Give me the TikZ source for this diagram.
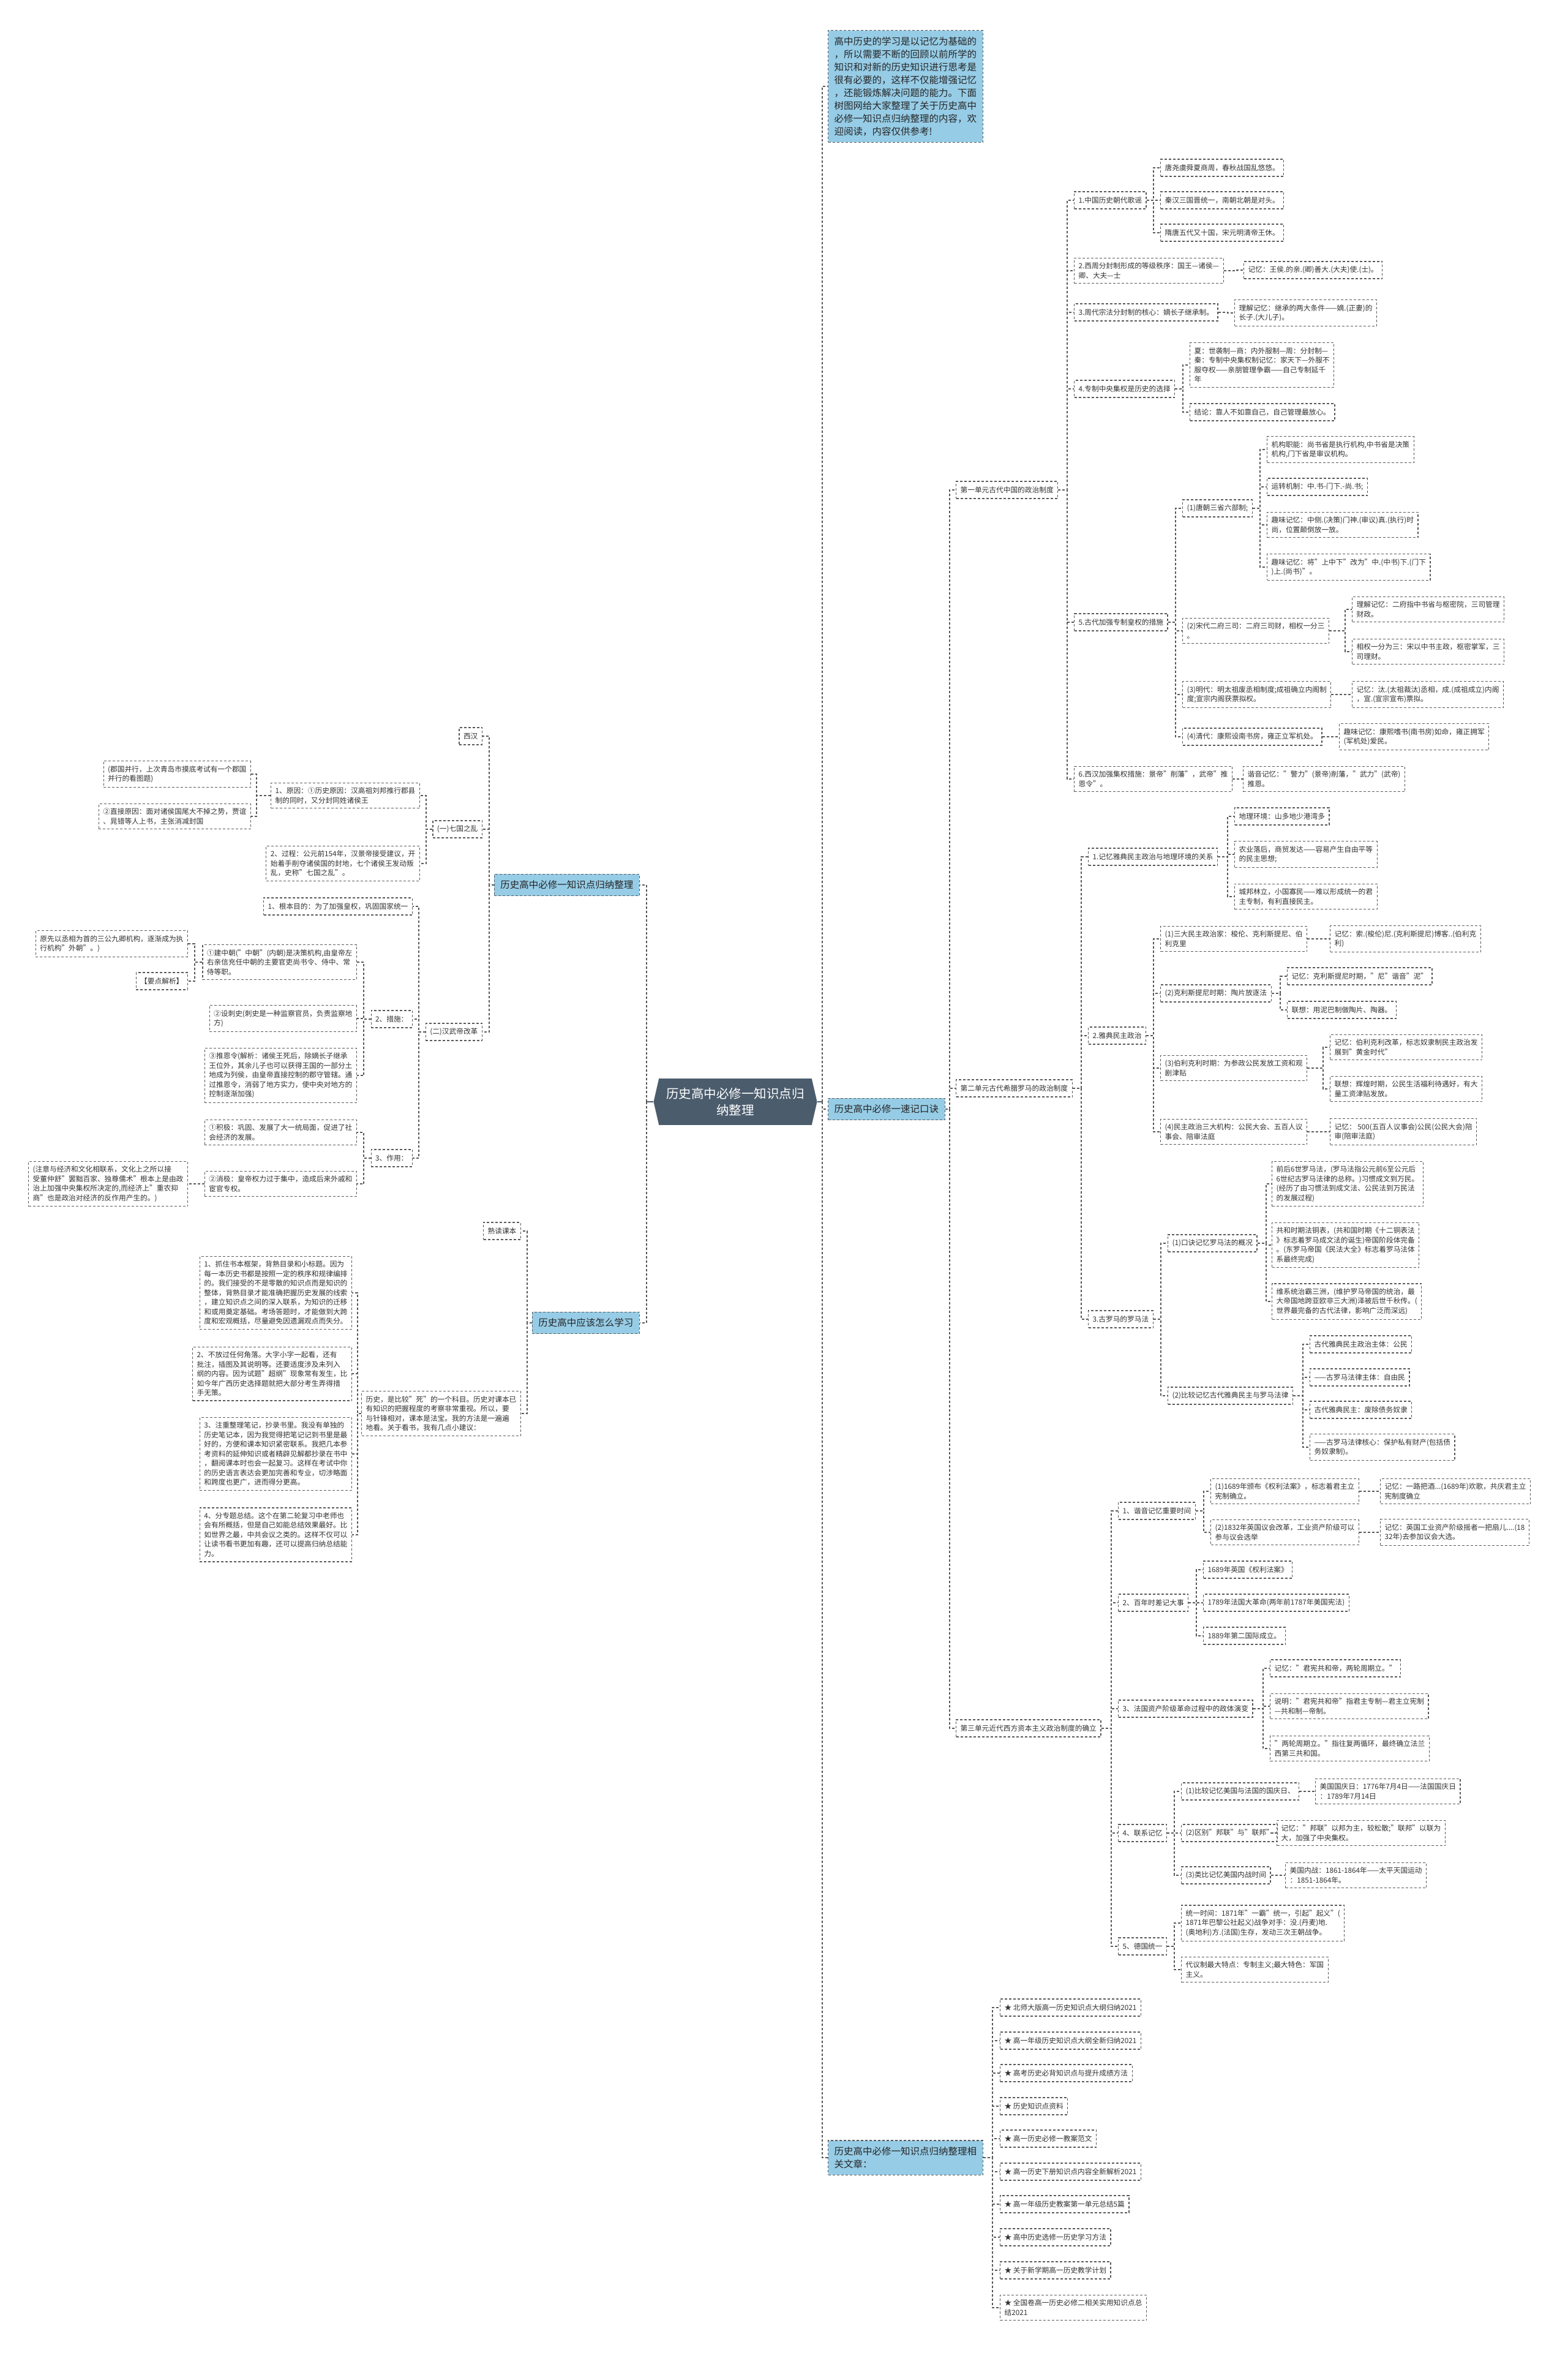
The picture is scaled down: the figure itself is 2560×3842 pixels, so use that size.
\documentclass[tikz,border=0pt]{standalone}
\usepackage{fontspec}
\setmainfont{Noto Sans CJK SC}
\usepackage{xcolor}
\usepackage{tikz}
\usetikzlibrary{shapes.symbols, positioning}

\definecolor{topicblue}{RGB}{150,204,230}
\definecolor{rootslate}{RGB}{75,92,109}
\definecolor{edgegray}{RGB}{90,90,90}
\definecolor{inkgray}{RGB}{50,50,50}

\begin{document}
\begin{tikzpicture}[x=1pt, y=-1pt]
        % Styles
        \tikzstyle{leaf} = [rectangle, draw=edgegray, line width=1.2pt, dash pattern=on 4pt off 3pt, text=inkgray, font=\fontsize{11.7}{15.5}\selectfont, align=left, inner xsep=7pt, inner ysep=7.5pt, minimum height=28pt, anchor=west]
        \tikzstyle{lleaf} = [leaf, anchor=east]
        \tikzstyle{topic} = [leaf, fill=topicblue, text=black!85, font=\fontsize{15.5}{21}\selectfont, inner xsep=10pt, inner ysep=10.5pt]
        \tikzstyle{ltopic} = [topic, anchor=east]
        \tikzstyle{rootbox} = [signal, signal to=west and east, signal pointer angle=154, fill=rootslate, text=white, font=\fontsize{20.5}{27}\selectfont, align=center, inner xsep=12pt, inner ysep=15pt]
        \tikzstyle{branch} = [draw=edgegray, line width=1.2pt, dash pattern=on 4pt off 3pt]
        \tikzstyle{trunk} = [draw=rootslate, line width=1.8pt]

        \fill[white] (0,0) rectangle (2560,3842);
        \useasboundingbox (0,0) rectangle (2560,3842);

        % Nodes
        \node [rootbox] (root) at (1201,1799) {历史高中必修一知识点归\\纳整理};
        \coordinate (rjoin) at (1343,1799);
        \coordinate (ljoin) at (1056,1799);

        % right side
        \node [topic] (intro) at (1352,141) {高中历史的学习是以记忆为基础的\\，所以需要不断的回顾以前所学的\\知识和对新的历史知识进行思考是\\很有必要的，这样不仅能增强记忆\\，还能锻炼解决问题的能力。下面\\树图网给大家整理了关于历史高中\\必修一知识点归纳整理的内容，欢\\迎阅读，内容仅供参考!};
        \node [topic] (kouj) at (1352,1811) {历史高中必修一速记口诀};
        \node [topic] (related) at (1352,3523) {历史高中必修一知识点归纳整理相\\关文章：};

        \node [leaf] (unitA) at (1561,800) {第一单元古代中国的政治制度};
        \node [leaf] (unitB) at (1561,1777) {第二单元古代希腊罗马的政治制度};
        \node [leaf] (unitC) at (1561,2822) {第三单元近代西方资本主义政治制度的确立};

        % unit one
        \node [leaf] (a1) at (1754,327) {1.中国历史朝代歌谣};
        \node [leaf] (a1x) at (1895,274) {唐尧虞舜夏商周，春秋战国乱悠悠。};
        \node [leaf] (a1y) at (1895,327) {秦汉三国晋统一，南朝北朝是对头。};
        \node [leaf] (a1z) at (1895,380) {隋唐五代又十国，宋元明清帝王休。};
        \node [leaf] (a2) at (1754,442) {2.西周分封制形成的等级秩序：国王—诸侯—\\卿、大夫—士};
        \node [leaf] (a2m) at (2031,441) {记忆：王侯.的亲.(卿)善大.(大夫)使.(士)。};
        \node [leaf] (a3) at (1754,510) {3.周代宗法分封制的核心：嫡长子继承制。};
        \node [leaf] (a3m) at (2016,511) {理解记忆：继承的两大条件——嫡.(正妻)的\\长子.(大儿子)。};
        \node [leaf] (a4) at (1754,635) {4.专制中央集权是历史的选择};
        \node [leaf] (a4x) at (1943,596) {夏：世袭制—商：内外服制—周：分封制—\\秦：专制中央集权制记忆：家天下—外服不\\服夺权——亲朋管理争霸——自己专制延千\\年};
        \node [leaf] (a4y) at (1943,673) {结论：靠人不如靠自己，自己管理最放心。};
        \node [leaf] (a5) at (1754,1016) {5.古代加强专制皇权的措施};
        \node [leaf] (a51) at (1931,830) {(1)唐朝三省六部制;};
        \node [leaf] (a51a) at (2069,734) {机构职能：尚书省是执行机构,中书省是决策\\机构,门下省是审议机构。};
        \node [leaf] (a51b) at (2069,795) {运转机制：中.书-门下.-尚.书;};
        \node [leaf] (a51c) at (2069,857) {趣味记忆：中侧.(决策)门神.(审议)真.(执行)时\\尚，位置颠倒放一放。};
        \node [leaf] (a51d) at (2069,926) {趣味记忆：将"上中下"改为"中.(中书)下.(门下\\)上.(尚书)"。};
        \node [leaf] (a52) at (1931,1030) {(2)宋代二府三司：二府三司财，相权一分三\\。};
        \node [leaf] (a52a) at (2208,995) {理解记忆：二府指中书省与枢密院，三司管理\\财政。};
        \node [leaf] (a52b) at (2208,1064) {相权一分为三：宋以中书主政，枢密掌军，三\\司理财。};
        \node [leaf] (a53) at (1931,1134) {(3)明代：明太祖废丞相制度;成祖确立内阁制\\度;宣宗内阁获票拟权。};
        \node [leaf] (a53m) at (2208,1134) {记忆：汰.(太祖裁汰)丞相，成.(成祖成立)内阁\\，宣.(宣宗宣布)票拟。};
        \node [leaf] (a54) at (1931,1203) {(4)清代：康熙设南书房，雍正立军机处。};
        \node [leaf] (a54m) at (2187,1203) {趣味记忆：康熙嗜书(南书房)如命，雍正拥军\\(军机处)爱民。};
        \node [leaf] (a6) at (1754,1272) {6.西汉加强集权措施：景帝"削藩"，武帝"推\\恩令"。};
        \node [leaf] (a6m) at (2030,1272) {谐音记忆："警力"(景帝)削藩，"武力"(武帝)\\推恩。};

        % unit two
        \node [leaf] (b1) at (1777,1399) {1.记忆雅典民主政治与地理环境的关系};
        \node [leaf] (b1x) at (2016,1333) {地理环境：山多地少港湾多};
        \node [leaf] (b1y) at (2016,1395) {农业落后，商贸发达——容易产生自由平等\\的民主思想;};
        \node [leaf] (b1z) at (2016,1464) {城邦林立，小国寡民——难以形成统一的君\\主专制，有利直接民主。};
        \node [leaf] (b2) at (1777,1691) {2.雅典民主政治};
        \node [leaf] (b21) at (1895,1533) {(1)三大民主政治家：梭伦、克利斯提尼、伯\\利克里};
        \node [leaf] (b21m) at (2172,1533) {记忆：索.(梭伦)尼.(克利斯提尼)博客..(伯利克\\利)};
        \node [leaf] (b22) at (1895,1622) {(2)克利斯提尼时期：陶片放逐法};
        \node [leaf] (b22x) at (2102,1594) {记忆：克利斯提尼时期，"尼"谐音"泥"};
        \node [leaf] (b22y) at (2102,1649) {联想：用泥巴制做陶片、陶器。};
        \node [leaf] (b23) at (1895,1744) {(3)伯利克利时期：为参政公民发放工资和观\\剧津贴};
        \node [leaf] (b23x) at (2172,1710) {记忆：伯利克利改革，标志奴隶制民主政治发\\展到"黄金时代"};
        \node [leaf] (b23y) at (2172,1778) {联想：辉煌时期，公民生活福利待遇好，有大\\量工资津贴发放。};
        \node [leaf] (b24) at (1895,1848) {(4)民主政治三大机构：公民大会、五百人议\\事会、陪审法庭};
        \node [leaf] (b24m) at (2172,1848) {记忆： 500(五百人议事会)公民(公民大会)陪\\审(陪审法庭)};
        \node [leaf] (b3) at (1777,2154) {3.古罗马的罗马法};
        \node [leaf] (b31) at (1907,2030) {(1)口诀记忆罗马法的概况};
        \node [leaf] (b31x) at (2077,1933) {前后6世罗马法，(罗马法指公元前6至公元后\\6世纪古罗马法律的总称。)习惯成文到万民。\\(经历了由习惯法到成文法、公民法到万民法\\的发展过程)};
        \node [leaf] (b31y) at (2077,2033) {共和时期法铜表，(共和国时期《十二铜表法\\》标志着罗马成文法的诞生)帝国阶段体完备\\。(东罗马帝国《民法大全》标志着罗马法体\\系最终完成)};
        \node [leaf] (b31z) at (2077,2125) {维系统治霸三洲，(维护罗马帝国的统治，最\\大帝国地跨亚欧非三大洲)泽被后世千秋传。(\\世界最完备的古代法律，影响广泛而深远)};
        \node [leaf] (b32) at (1907,2279) {(2)比较记忆古代雅典民主与罗马法律};
        \node [leaf] (b32a) at (2139,2195) {古代雅典民主政治主体：公民};
        \node [leaf] (b32b) at (2139,2249) {——古罗马法律主体：自由民};
        \node [leaf] (b32c) at (2139,2302) {古代雅典民主：废除债务奴隶};
        \node [leaf] (b32d) at (2139,2363) {——古罗马法律核心：保护私有财产(包括债\\务奴隶制)。};

        % unit three
        \node [leaf] (c1) at (1826,2467) {1、谐音记忆重要时间};
        \node [leaf] (c11) at (1977,2435) {(1)1689年颁布《权利法案》，标志着君主立\\宪制确立。};
        \node [leaf] (c11m) at (2254,2435) {记忆：一路把酒...(1689年)欢歌，共庆君主立\\宪制度确立};
        \node [leaf] (c12) at (1977,2502) {(2)1832年英国议会改革，工业资产阶级可以\\参与议会选举};
        \node [leaf] (c12m) at (2254,2502) {记忆：英国工业资产阶级摇者一把扇儿....(18\\32年)去参加议会大选。};
        \node [leaf] (c2) at (1826,2617) {2、百年时差记大事};
        \node [leaf] (c2x) at (1965,2563) {1689年英国《权利法案》};
        \node [leaf] (c2y) at (1965,2617) {1789年法国大革命(两年前1787年美国宪法)};
        \node [leaf] (c2z) at (1965,2671) {1889年第二国际成立。};
        \node [leaf] (c3) at (1826,2790) {3、法国资产阶级革命过程中的政体演变};
        \node [leaf] (c3x) at (2074,2724) {记忆："君宪共和帝，两轮周期立。"};
        \node [leaf] (c3y) at (2074,2786) {说明："君宪共和帝"指君主专制—君主立宪制\\—共和制—帝制。};
        \node [leaf] (c3z) at (2074,2855) {"两轮周期立。"指往复两循环，最终确立法兰\\西第三共和国。};
        \node [leaf] (c4) at (1826,2993) {4、联系记忆};
        \node [leaf] (c41) at (1929,2925) {(1)比较记忆美国与法国的国庆日、};
        \node [leaf] (c41m) at (2148,2925) {美国国庆日：1776年7月4日——法国国庆日\\：1789年7月14日};
        \node [leaf] (c42) at (1929,2993) {(2)区别"邦联"与"联邦"};
        \node [leaf] (c42m) at (2085,2993) {记忆："邦联"以邦为主，较松散;"联邦"以联为\\大，加强了中央集权。};
        \node [leaf] (c43) at (1929,3062) {(3)类比记忆美国内战时间};
        \node [leaf] (c43m) at (2099,3062) {美国内战：1861-1864年——太平天国运动\\：1851-1864年。};
        \node [leaf] (c5) at (1826,3178) {5、德国统一};
        \node [leaf] (c5x) at (1929,3140) {统一时间：1871年"一霸"统一，引起"起义"(\\1871年巴黎公社起义)战争对手：没.(丹麦)地.\\(奥地利)方.(法国)生存，发动三次王朝战争。};
        \node [leaf] (c5y) at (1929,3216) {代议制最大特点：专制主义;最大特色：军国\\主义。};

        % related articles
        \node [leaf] (r1) at (1633,3278) {★ 北师大版高一历史知识点大纲归纳2021};
        \node [leaf] (r2) at (1633,3332) {★ 高一年级历史知识点大纲全新归纳2021};
        \node [leaf] (r3) at (1633,3385) {★ 高考历史必背知识点与提升成绩方法};
        \node [leaf] (r4) at (1633,3439) {★ 历史知识点资料};
        \node [leaf] (r5) at (1633,3492) {★ 高一历史必修一教案范文};
        \node [leaf] (r6) at (1633,3546) {★ 高一历史下册知识点内容全新解析2021};
        \node [leaf] (r7) at (1633,3599) {★ 高一年级历史教案第一单元总结5篇};
        \node [leaf] (r8) at (1633,3653) {★ 高中历史选修一历史学习方法};
        \node [leaf] (r9) at (1633,3707) {★ 关于新学期高一历史教学计划};
        \node [leaf] (r10) at (1633,3768) {★ 全国卷高一历史必修二相关实用知识点总\\结2021};

        % left side
        \node [ltopic] (summ) at (1045,1445) {历史高中必修一知识点归纳整理};
        \node [ltopic] (howto) at (1045,2160) {历史高中应该怎么学习};

        \node [lleaf] (xihan) at (788,1202) {西汉};
        \node [lleaf] (qiguo) at (788,1354) {(一)七国之乱};
        \node [lleaf] (qa) at (686,1299) {1、原因：①历史原因：汉高祖刘邦推行郡县\\制的同时，又分封同姓诸侯王};
        \node [lleaf] (qaa) at (410,1264) {(郡国并行，上次青岛市摸底考试有一个郡国\\并行的看图题)};
        \node [lleaf] (qab) at (410,1333) {②直接原因：面对诸侯国尾大不掉之势，贾谊\\、晁错等人上书，主张消减封国};
        \node [lleaf] (qb) at (686,1410) {2、过程：公元前154年，汉景帝接受建议，开\\始着手削夺诸侯国的封地，七个诸侯王发动叛\\乱，史称"七国之乱"。};
        \node [lleaf] (wudi) at (788,1685) {(二)汉武帝改革};
        \node [lleaf] (wa) at (674,1480) {1、根本目的：为了加强皇权，巩固国家统一};
        \node [lleaf] (wb) at (674,1664) {2、措施：};
        \node [lleaf] (wba) at (583,1571) {①建中朝("中朝"(内朝)是决策机构,由皇帝左\\右亲信充任中朝的主要官吏尚书令、侍中、常\\侍等职。};
        \node [lleaf] (wbaa) at (307,1541) {原先以丞相为首的三公九卿机构，逐渐成为执\\行机构"外朝"。)};
        \node [lleaf] (wbab) at (307,1602) {【要点解析】};
        \node [lleaf] (wbb) at (583,1663) {②设刺史(刺史是一种监察官员，负责监察地\\方)};
        \node [lleaf] (wbc) at (583,1756) {③推恩令(解析：诸侯王死后，除嫡长子继承\\王位外，其余儿子也可以获得王国的一部分土\\地成为列侯，由皇帝直接控制的郡守管辖。通\\过推恩令，消弱了地方实力，使中央对地方的\\控制逐渐加强)};
        \node [lleaf] (wc) at (674,1891) {3、作用：};
        \node [lleaf] (wca) at (583,1849) {①积极：巩固、发展了大一统局面，促进了社\\会经济的发展。};
        \node [lleaf] (wcb) at (583,1933) {②消极：皇帝权力过于集中，造成后来外戚和\\宦官专权。};
        \node [lleaf] (wcba) at (307,1933) {(注意与经济和文化相联系，文化上之所以接\\受董仲舒"罢黜百家、独尊儒术"根本上是由政\\治上加强中央集权所决定的,而经济上"重农抑\\商"也是政治对经济的反作用产生的。)};

        \node [lleaf] (shudu) at (851,2010) {熟读课本};
        \node [lleaf] (lishi) at (851,2308) {历史，是比较"死"的一个科目。历史对课本已\\有知识的把握程度的考察非常重视。所以，要\\与针锋相对，课本是法宝。我的方法是一遍遍\\地看。关于看书，我有几点小建议：};
        \node [lleaf] (ha) at (575,2111) {1、抓住书本框架，背熟目录和小标题。因为\\每一本历史书都是按照一定的秩序和规律编排\\的。我们接受的不是零散的知识点而是知识的\\整体，背熟目录才能准确把握历史发展的线索\\，建立知识点之间的深入联系，为知识的迁移\\和或用奠定基础。考场答题时，才能做到大跨\\度和宏观概括，尽量避免因遗漏观点而失分。};
        \node [lleaf] (hb) at (575,2243) {2、不放过任何角落。大字小字一起看，还有\\批注，插图及其说明等。还要适度涉及未列入\\纲的内容。因为试题"超纲"现象常有发生，比\\如今年广西历史选择题就把大部分考生弄得措\\手无策。};
        \node [lleaf] (hc) at (575,2374) {3、注重整理笔记，抄录书里。我没有单独的\\历史笔记本，因为我觉得把笔记记到书里是最\\好的，方便和课本知识紧密联系。我把几本参\\考资料的延伸知识或者精辟见解都抄录在书中\\，翻阅课本时也会一起复习。这样在考试中你\\的历史语言表达会更加完善和专业，切涉略面\\和跨度也更广，进而得分更高。};
        \node [lleaf] (hd) at (575,2506) {4、分专题总结。这个在第二轮复习中老师也\\会有所概括，但是自己如能总结效果最好。比\\如世界之最，中共会议之类的。这样不仅可以\\让读书看书更加有趣，还可以提高归纳总结能\\力。};

        % Paths
        \path [trunk] (root.east) -- (rjoin);
        \path [trunk] (root.west) -- (ljoin);
        \path [branch] (rjoin) |- (intro.west);
        \path [branch] (rjoin) |- (kouj.west);
        \path [branch] (rjoin) |- (related.west);
        \path [branch] (ljoin) |- (summ.east);
        \path [branch] (ljoin) |- (howto.east);

        \path [branch] (kouj.east) -| ([xshift=-10pt]unitA.west) -- (unitA.west);
        \path [branch] (kouj.east) -| ([xshift=-10pt]unitB.west) -- (unitB.west);
        \path [branch] (kouj.east) -| ([xshift=-10pt]unitC.west) -- (unitC.west);

        \path [branch] (unitA.east) -| ([xshift=-11pt]a1.west) -- (a1.west);
        \path [branch] (unitA.east) -| ([xshift=-11pt]a2.west) -- (a2.west);
        \path [branch] (unitA.east) -| ([xshift=-11pt]a3.west) -- (a3.west);
        \path [branch] (unitA.east) -| ([xshift=-11pt]a4.west) -- (a4.west);
        \path [branch] (unitA.east) -| ([xshift=-11pt]a5.west) -- (a5.west);
        \path [branch] (unitA.east) -| ([xshift=-11pt]a6.west) -- (a6.west);
        \path [branch] (a1.east) -| ([xshift=-11pt]a1x.west) -- (a1x.west);
        \path [branch] (a1.east) -| ([xshift=-11pt]a1y.west) -- (a1y.west);
        \path [branch] (a1.east) -| ([xshift=-11pt]a1z.west) -- (a1z.west);
        \path [branch] (a2.east) -| ([xshift=-11pt]a2m.west) -- (a2m.west);
        \path [branch] (a3.east) -| ([xshift=-11pt]a3m.west) -- (a3m.west);
        \path [branch] (a4.east) -| ([xshift=-11pt]a4x.west) -- (a4x.west);
        \path [branch] (a4.east) -| ([xshift=-11pt]a4y.west) -- (a4y.west);
        \path [branch] (a5.east) -| ([xshift=-11pt]a51.west) -- (a51.west);
        \path [branch] (a5.east) -| ([xshift=-11pt]a52.west) -- (a52.west);
        \path [branch] (a5.east) -| ([xshift=-11pt]a53.west) -- (a53.west);
        \path [branch] (a5.east) -| ([xshift=-11pt]a54.west) -- (a54.west);
        \path [branch] (a51.east) -| ([xshift=-11pt]a51a.west) -- (a51a.west);
        \path [branch] (a51.east) -| ([xshift=-11pt]a51b.west) -- (a51b.west);
        \path [branch] (a51.east) -| ([xshift=-11pt]a51c.west) -- (a51c.west);
        \path [branch] (a51.east) -| ([xshift=-11pt]a51d.west) -- (a51d.west);
        \path [branch] (a52.east) -| ([xshift=-11pt]a52a.west) -- (a52a.west);
        \path [branch] (a52.east) -| ([xshift=-11pt]a52b.west) -- (a52b.west);
        \path [branch] (a53.east) -| ([xshift=-11pt]a53m.west) -- (a53m.west);
        \path [branch] (a54.east) -| ([xshift=-11pt]a54m.west) -- (a54m.west);
        \path [branch] (a6.east) -| ([xshift=-11pt]a6m.west) -- (a6m.west);

        \path [branch] (unitB.east) -| ([xshift=-11pt]b1.west) -- (b1.west);
        \path [branch] (unitB.east) -| ([xshift=-11pt]b2.west) -- (b2.west);
        \path [branch] (unitB.east) -| ([xshift=-11pt]b3.west) -- (b3.west);
        \path [branch] (b1.east) -| ([xshift=-11pt]b1x.west) -- (b1x.west);
        \path [branch] (b1.east) -| ([xshift=-11pt]b1y.west) -- (b1y.west);
        \path [branch] (b1.east) -| ([xshift=-11pt]b1z.west) -- (b1z.west);
        \path [branch] (b2.east) -| ([xshift=-11pt]b21.west) -- (b21.west);
        \path [branch] (b2.east) -| ([xshift=-11pt]b22.west) -- (b22.west);
        \path [branch] (b2.east) -| ([xshift=-11pt]b23.west) -- (b23.west);
        \path [branch] (b2.east) -| ([xshift=-11pt]b24.west) -- (b24.west);
        \path [branch] (b21.east) -| ([xshift=-11pt]b21m.west) -- (b21m.west);
        \path [branch] (b22.east) -| ([xshift=-11pt]b22x.west) -- (b22x.west);
        \path [branch] (b22.east) -| ([xshift=-11pt]b22y.west) -- (b22y.west);
        \path [branch] (b23.east) -| ([xshift=-11pt]b23x.west) -- (b23x.west);
        \path [branch] (b23.east) -| ([xshift=-11pt]b23y.west) -- (b23y.west);
        \path [branch] (b24.east) -| ([xshift=-11pt]b24m.west) -- (b24m.west);
        \path [branch] (b3.east) -| ([xshift=-11pt]b31.west) -- (b31.west);
        \path [branch] (b3.east) -| ([xshift=-11pt]b32.west) -- (b32.west);
        \path [branch] (b31.east) -| ([xshift=-9pt]b31x.west) -- (b31x.west);
        \path [branch] (b31.east) -| ([xshift=-9pt]b31y.west) -- (b31y.west);
        \path [branch] (b31.east) -| ([xshift=-9pt]b31z.west) -- (b31z.west);
        \path [branch] (b32.east) -| ([xshift=-11pt]b32a.west) -- (b32a.west);
        \path [branch] (b32.east) -| ([xshift=-11pt]b32b.west) -- (b32b.west);
        \path [branch] (b32.east) -| ([xshift=-11pt]b32c.west) -- (b32c.west);
        \path [branch] (b32.east) -| ([xshift=-11pt]b32d.west) -- (b32d.west);

        \path [branch] (unitC.east) -| ([xshift=-11pt]c1.west) -- (c1.west);
        \path [branch] (unitC.east) -| ([xshift=-11pt]c2.west) -- (c2.west);
        \path [branch] (unitC.east) -| ([xshift=-11pt]c3.west) -- (c3.west);
        \path [branch] (unitC.east) -| ([xshift=-11pt]c4.west) -- (c4.west);
        \path [branch] (unitC.east) -| ([xshift=-11pt]c5.west) -- (c5.west);
        \path [branch] (c1.east) -| ([xshift=-11pt]c11.west) -- (c11.west);
        \path [branch] (c1.east) -| ([xshift=-11pt]c12.west) -- (c12.west);
        \path [branch] (c11.east) -| ([xshift=-11pt]c11m.west) -- (c11m.west);
        \path [branch] (c12.east) -| ([xshift=-11pt]c12m.west) -- (c12m.west);
        \path [branch] (c2.east) -| ([xshift=-11pt]c2x.west) -- (c2x.west);
        \path [branch] (c2.east) -| ([xshift=-11pt]c2y.west) -- (c2y.west);
        \path [branch] (c2.east) -| ([xshift=-11pt]c2z.west) -- (c2z.west);
        \path [branch] (c3.east) -| ([xshift=-11pt]c3x.west) -- (c3x.west);
        \path [branch] (c3.east) -| ([xshift=-11pt]c3y.west) -- (c3y.west);
        \path [branch] (c3.east) -| ([xshift=-11pt]c3z.west) -- (c3z.west);
        \path [branch] (c4.east) -| ([xshift=-11pt]c41.west) -- (c41.west);
        \path [branch] (c4.east) -| ([xshift=-11pt]c42.west) -- (c42.west);
        \path [branch] (c4.east) -| ([xshift=-11pt]c43.west) -- (c43.west);
        \path [branch] (c41.east) -| ([xshift=-11pt]c41m.west) -- (c41m.west);
        \path [branch] (c42.east) -| ([xshift=-11pt]c42m.west) -- (c42m.west);
        \path [branch] (c43.east) -| ([xshift=-11pt]c43m.west) -- (c43m.west);
        \path [branch] (c5.east) -| ([xshift=-11pt]c5x.west) -- (c5x.west);
        \path [branch] (c5.east) -| ([xshift=-11pt]c5y.west) -- (c5y.west);

        \path [branch] (related.east) -| ([xshift=-12pt]r1.west) -- (r1.west);
        \path [branch] (related.east) -| ([xshift=-12pt]r2.west) -- (r2.west);
        \path [branch] (related.east) -| ([xshift=-12pt]r3.west) -- (r3.west);
        \path [branch] (related.east) -| ([xshift=-12pt]r4.west) -- (r4.west);
        \path [branch] (related.east) -| ([xshift=-12pt]r5.west) -- (r5.west);
        \path [branch] (related.east) -| ([xshift=-12pt]r6.west) -- (r6.west);
        \path [branch] (related.east) -| ([xshift=-12pt]r7.west) -- (r7.west);
        \path [branch] (related.east) -| ([xshift=-12pt]r8.west) -- (r8.west);
        \path [branch] (related.east) -| ([xshift=-12pt]r9.west) -- (r9.west);
        \path [branch] (related.east) -| ([xshift=-12pt]r10.west) -- (r10.west);

        \path [branch] (summ.west) -| ([xshift=11pt]xihan.east) -- (xihan.east);
        \path [branch] (summ.west) -| ([xshift=11pt]qiguo.east) -- (qiguo.east);
        \path [branch] (summ.west) -| ([xshift=11pt]wudi.east) -- (wudi.east);
        \path [branch] (qiguo.west) -| ([xshift=10pt]qa.east) -- (qa.east);
        \path [branch] (qiguo.west) -| ([xshift=10pt]qb.east) -- (qb.east);
        \path [branch] (qa.west) -| ([xshift=9pt]qaa.east) -- (qaa.east);
        \path [branch] (qa.west) -| ([xshift=9pt]qab.east) -- (qab.east);
        \path [branch] (wudi.west) -| ([xshift=10pt]wa.east) -- (wa.east);
        \path [branch] (wudi.west) -| ([xshift=10pt]wb.east) -- (wb.east);
        \path [branch] (wudi.west) -| ([xshift=10pt]wc.east) -- (wc.east);
        \path [branch] (wb.west) -| ([xshift=11pt]wba.east) -- (wba.east);
        \path [branch] (wb.west) -| ([xshift=11pt]wbb.east) -- (wbb.east);
        \path [branch] (wb.west) -| ([xshift=11pt]wbc.east) -- (wbc.east);
        \path [branch] (wba.west) -| ([xshift=11pt]wbaa.east) -- (wbaa.east);
        \path [branch] (wba.west) -| ([xshift=11pt]wbab.east) -- (wbab.east);
        \path [branch] (wc.west) -| ([xshift=11pt]wca.east) -- (wca.east);
        \path [branch] (wc.west) -| ([xshift=11pt]wcb.east) -- (wcb.east);
        \path [branch] (wcb.west) -| ([xshift=11pt]wcba.east) -- (wcba.east);

        \path [branch] (howto.west) -| ([xshift=10pt]shudu.east) -- (shudu.east);
        \path [branch] (howto.west) -| ([xshift=10pt]lishi.east) -- (lishi.east);
        \path [branch] (lishi.west) -| ([xshift=9pt]ha.east) -- (ha.east);
        \path [branch] (lishi.west) -| ([xshift=9pt]hb.east) -- (hb.east);
        \path [branch] (lishi.west) -| ([xshift=9pt]hc.east) -- (hc.east);
        \path [branch] (lishi.west) -| ([xshift=9pt]hd.east) -- (hd.east);
\end{tikzpicture}
\end{document}
